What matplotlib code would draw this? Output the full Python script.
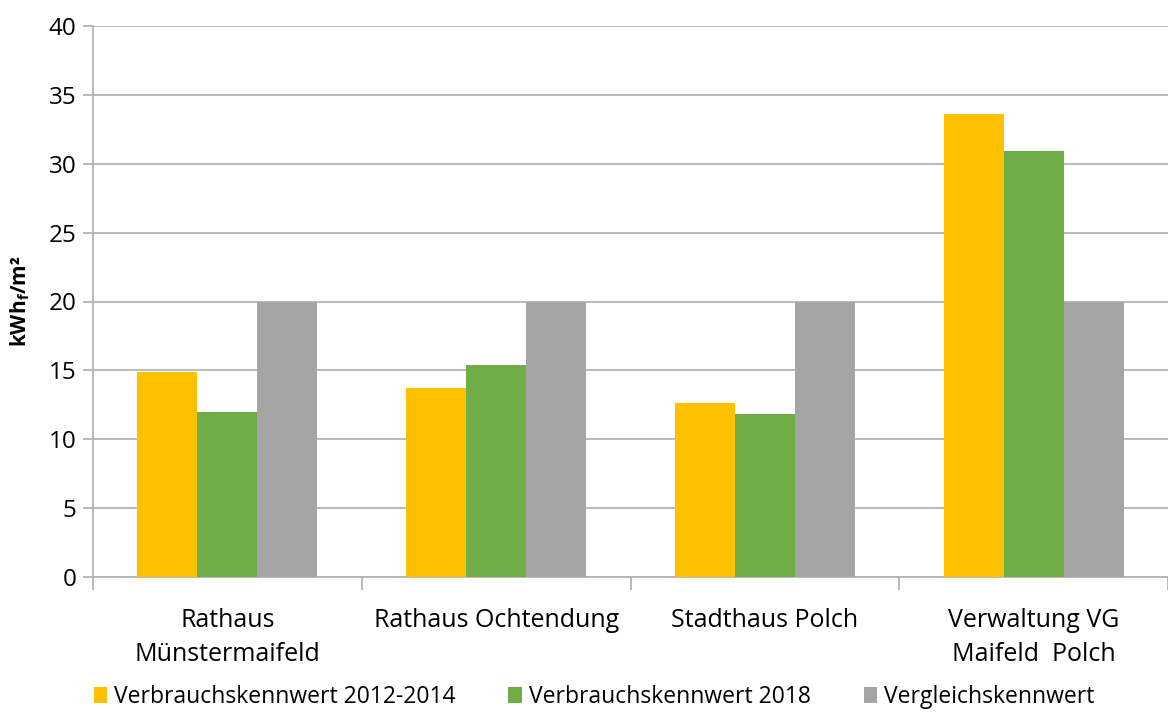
import numpy as np
import matplotlib
matplotlib.use("Agg")
import matplotlib.pyplot as plt

plt.rcParams["font.family"] = ["Open Sans", "DejaVu Sans"]
plt.rcParams["mathtext.fontset"] = "custom"
plt.rcParams["mathtext.rm"] = "Open Sans"
plt.rcParams["mathtext.bf"] = "Open Sans:bold"

categories = ["Rathaus\nMünstermaifeld", "Rathaus Ochtendung", "Stadthaus Polch",
              "Verwaltung VG\nMaifeld  Polch"]
series_names = ["Verbrauchskennwert 2012-2014", "Verbrauchskennwert 2018", "Vergleichskennwert"]
werte_2012_2014 = [14.9, 13.7, 12.6, 33.6]
werte_2018 = [12.0, 15.4, 11.8, 30.9]
vergleich = [20, 20, 20, 20]
colors = ["#FFC000", "#70AD47", "#A5A5A5"]

fig = plt.figure(figsize=(11.68, 7.13), dpi=100)
ax = fig.add_axes([93/1168, 1-577/713, (1168-93)/1168, (577-26)/713])

x = np.arange(len(categories))
w = 0.223
for i, (vals, c, lab) in enumerate(zip([werte_2012_2014, werte_2018, vergleich], colors, series_names)):
    ax.bar(x + (i-1)*w, vals, width=w, color=c, label=lab, zorder=3)

ax.set_xlim(-0.5, len(categories)-0.5)
ax.set_ylim(0, 40)
ax.set_yticks(range(0, 41, 5))
ax.yaxis.grid(True, color="#B4B4B4", lw=1.3, zorder=0)
ax.tick_params(axis="y", length=7, width=1.3, color="#B4B4B4", labelsize=17.5, pad=5)
for s in ["top", "right"]:
    ax.spines[s].set_visible(False)
for s in ["left", "bottom"]:
    ax.spines[s].set_color("#B4B4B4")
    ax.spines[s].set_linewidth(1.3)

ax.set_xticks(x)
ax.set_xticklabels(categories, fontsize=18, linespacing=1.5)
ax.tick_params(axis="x", length=0, pad=22)
ax.set_xticks(np.arange(-0.5, len(categories)), minor=True)
ax.tick_params(axis="x", which="minor", length=9, width=1.3, color="#B4B4B4")

ax.set_ylabel(r"kWh$_\mathbf{f}$/m²", fontsize=15, fontweight="bold", labelpad=12)

ax.legend(loc="upper left", bbox_to_anchor=(-0.008, -0.18), ncol=3, frameon=False,
          fontsize=16.5, handlelength=0.6, handleheight=0.7, handletextpad=0.3,
          columnspacing=2.3, borderaxespad=0)

fig.savefig("out.png", dpi=100)
